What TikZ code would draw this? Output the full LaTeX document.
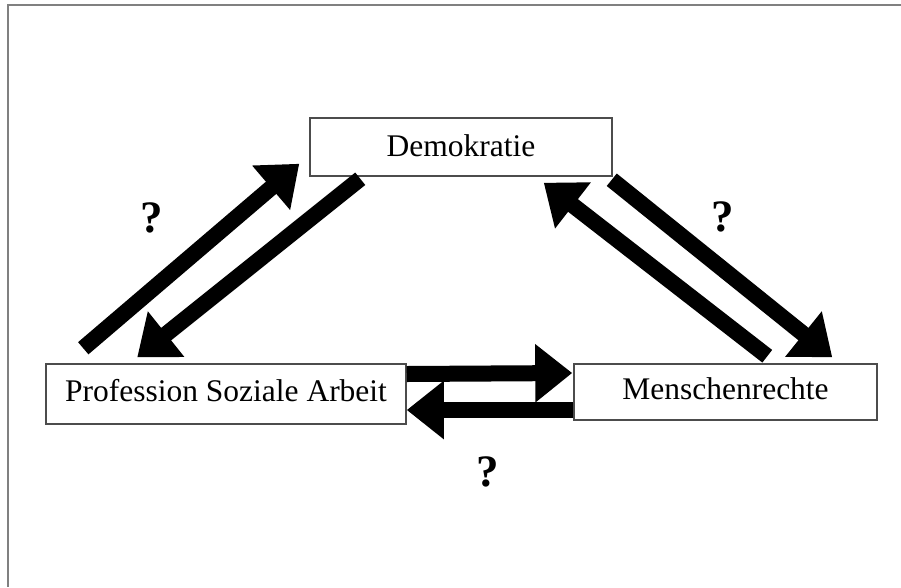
\documentclass[tikz,border=0pt]{standalone}
\usepackage{fontspec}
\setmainfont{Liberation Serif}
\usetikzlibrary{arrows.meta,calc}
\tikzset{
  box/.style={draw=black!70, line width=1.5pt, fill=white, inner sep=0pt,
    font=\fontsize{31.5}{36}\selectfont, text=black},
  bigarrow/.style={line width=16pt, black, -{Triangle[length=37pt,width=56pt]}},
  qmark/.style={font=\fontsize{45}{50}\selectfont\bfseries, inner sep=0pt},
  frame/.style={draw=black!50, line width=1.6pt}
}
\begin{document}
\begin{tikzpicture}[x=1pt,y=-1pt]
\useasboundingbox (0,0) rectangle (901,587);
\draw[frame] (901,5) -- (8,5) -- (8,587);
\node[box, minimum width=302pt, minimum height=58pt, text depth=3pt] (demo) at (461,147) {Demokratie};
\node[box, minimum width=360pt, minimum height=60pt, text depth=8pt] (psa) at (226,394) {Profession Soziale Arbeit};
\node[box, minimum width=303pt, minimum height=56pt, text depth=7pt] (mr) at (725.5,392) {Menschenrechte};
% left pair
\draw[bigarrow] ($(psa.north west)+(38,-15)$) -- ($(demo.south west)+(-10,-13)$);
\draw[bigarrow] ($(demo.south west)+(51,2)$) -- ($(psa.north west)+(92,-6)$);
% right pair
\draw[bigarrow] ($(mr.north west)+(194,-7)$) -- ($(demo.south east)+(-69,6)$);
\draw[bigarrow] ($(demo.south east)+(-1,3)$) -- ($(mr.north west)+(259,-6)$);
% horizontal pair
\draw[bigarrow] ($(psa.east)+(0,-20)$) -- ($(mr.west)+(-1,-19)$);
\draw[bigarrow] ($(mr.west)+(0,18)$) -- ($(psa.east)+(0,16)$);
\node[qmark] (q1) at (152,218) {?};
\node[qmark] (q2) at (723,217) {?};
\node[qmark] (q3) at (488,472) {?};
\end{tikzpicture}
\end{document}
